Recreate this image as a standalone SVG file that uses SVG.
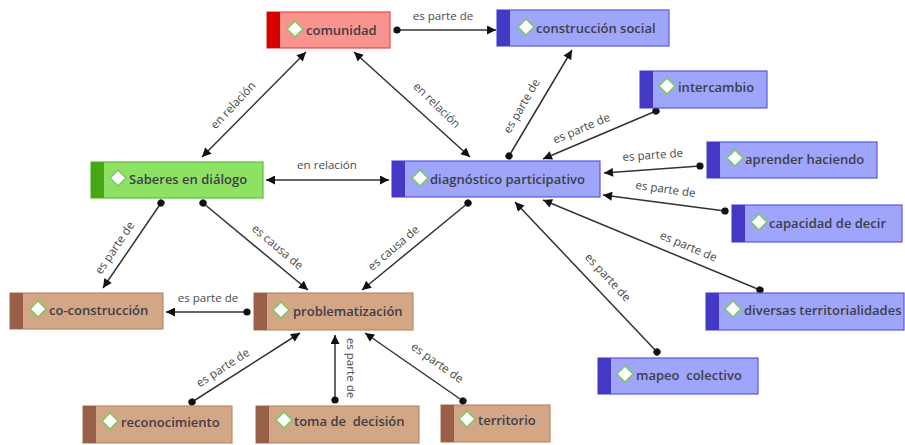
<svg xmlns="http://www.w3.org/2000/svg" xmlns:xlink="http://www.w3.org/1999/xlink" width="905" height="445" viewBox="0 0 905 445">
  <style>
    .body { stroke-width: 1.2; }
    .red .body { fill: #f9938d; stroke: #ea4a44; }
    .red .bar { fill: #d80000; }
    .blue .body { fill: #9ea5fa; stroke: #5a58dc; }
    .blue .bar { fill: #4638c6; }
    .green .body { fill: #8de264; stroke: #5cbf3a; }
    .green .bar { fill: #47a614; }
    .brown .body { fill: #d3a685; stroke: #b88a6a; }
    .brown .bar { fill: #9a5f49; }
    .icon { fill: #ffffff; stroke: #7fc866; stroke-width: 1.6; }
    .label { font-family: "Open Sans", "Noto Sans", sans-serif; font-size: 13px; font-weight: 600; fill: #3e3e46; white-space: pre; }
    .link { stroke: #333333; stroke-width: 1.5; fill: none; marker-start: url(#dot); marker-end: url(#arrow); }
    .link.both { marker-start: url(#arrow); }
    .rel { font-family: "Open Sans", "Noto Sans", sans-serif; font-size: 11.6px; fill: #4a4a4a; text-anchor: middle; }
  </style>
  <defs>
    <marker id="arrow" viewBox="0 0 10 10" refX="10" refY="5" markerWidth="10" markerHeight="9" markerUnits="userSpaceOnUse" orient="auto-start-reverse">
      <path d="M0,0 L10,5 L0,10 Z" fill="#111111"/>
    </marker>
    <marker id="dot" viewBox="0 0 8 8" refX="4" refY="4" markerWidth="8" markerHeight="8" markerUnits="userSpaceOnUse" orient="auto">
      <circle cx="4" cy="4" r="3.6" fill="#111111"/>
    </marker>
    <path id="diamond" class="icon" d="M0,-8 L8,0 L0,8 L-8,0 Z"/>
  </defs>

  <rect width="905" height="445" fill="#ffffff"/>

  <!-- connectors -->
  <g id="connectors">
    <line class="link" x1="397" y1="30" x2="496" y2="30"/>
    <line class="link both" x1="202" y1="157" x2="306" y2="52"/>
    <line class="link both" x1="470" y1="157" x2="354" y2="52"/>
    <line class="link both" x1="266" y1="180" x2="389" y2="180"/>
    <line class="link" x1="509" y1="156" x2="572" y2="50"/>
    <line class="link" x1="656" y1="111" x2="543" y2="159"/>
    <line class="link" x1="700" y1="166" x2="604" y2="173"/>
    <line class="link" x1="725" y1="211" x2="603" y2="195"/>
    <line class="link" x1="760" y1="290" x2="543" y2="200"/>
    <line class="link" x1="657" y1="352" x2="515" y2="202"/>
    <line class="link" x1="161" y1="203" x2="103" y2="288"/>
    <line class="link" x1="203" y1="203" x2="308" y2="290"/>
    <line class="link" x1="468" y1="203" x2="362" y2="290"/>
    <line class="link" x1="247" y1="312" x2="166" y2="312"/>
    <line class="link" x1="192" y1="402" x2="300" y2="333"/>
    <line class="link" x1="335" y1="400" x2="335" y2="335"/>
    <line class="link" x1="463" y1="401" x2="365" y2="333"/>

    <text class="rel" x="443" y="20">es parte de</text>
    <text class="rel" transform="translate(236,108) rotate(-47)">en relación</text>
    <text class="rel" transform="translate(434,108) rotate(44)">en relación</text>
    <text class="rel" x="327" y="169">en relación</text>
    <text class="rel" transform="translate(525,108) rotate(-60)">es parte de</text>
    <text class="rel" transform="translate(583,132) rotate(-23)">es parte de</text>
    <text class="rel" transform="translate(653,159) rotate(-4)">es parte de</text>
    <text class="rel" transform="translate(665,193) rotate(8)">es parte de</text>
    <text class="rel" transform="translate(687,250) rotate(23)">es parte de</text>
    <text class="rel" transform="translate(605,280) rotate(47)">es parte de</text>
    <text class="rel" transform="translate(118,250) rotate(-56)">es parte de</text>
    <text class="rel" transform="translate(275,250) rotate(40)">es causa de</text>
    <text class="rel" transform="translate(396,251) rotate(-40)">es causa de</text>
    <text class="rel" x="208" y="302">es parte de</text>
    <text class="rel" transform="translate(225,371) rotate(-33)">es parte de</text>
    <text class="rel" transform="translate(347,368) rotate(90)">es parte de</text>
    <text class="rel" transform="translate(435,366) rotate(35)">es parte de</text>
  </g>

  <!-- nodes -->
  <g id="comunidad" class="red">
    <rect class="body" x="267" y="12" width="123" height="36"/>
    <rect class="bar" x="267" y="12" width="13" height="36"/>
    <use xlink:href="#diamond" x="295" y="29"/>
    <text class="label" x="306" y="34.5">comunidad</text>
  </g>
  <g id="construccion-social" class="blue">
    <rect class="body" x="497" y="10" width="172" height="36"/>
    <rect class="bar" x="497" y="10" width="13" height="36"/>
    <use xlink:href="#diamond" x="526" y="27"/>
    <text class="label" x="536" y="32.5">construcción social</text>
  </g>
  <g id="intercambio" class="blue">
    <rect class="body" x="640" y="71" width="127" height="37"/>
    <rect class="bar" x="640" y="71" width="13" height="37"/>
    <use xlink:href="#diamond" x="667" y="86"/>
    <text class="label" x="678" y="91.5">intercambio</text>
  </g>
  <g id="saberes-en-dialogo" class="green">
    <rect class="body" x="91" y="162" width="172" height="36"/>
    <rect class="bar" x="91" y="162" width="13" height="36"/>
    <use xlink:href="#diamond" x="118" y="178"/>
    <text class="label" x="129" y="183.5">Saberes en diálogo</text>
  </g>
  <g id="diagnostico-participativo" class="blue">
    <rect class="body" x="392" y="161" width="208" height="36"/>
    <rect class="bar" x="392" y="161" width="13" height="36"/>
    <use xlink:href="#diamond" x="420" y="178"/>
    <text class="label" x="430" y="183.5">diagnóstico participativo</text>
  </g>
  <g id="aprender-haciendo" class="blue">
    <rect class="body" x="707" y="142" width="170" height="36"/>
    <rect class="bar" x="707" y="142" width="13" height="36"/>
    <use xlink:href="#diamond" x="735" y="158"/>
    <text class="label" x="745" y="163.5">aprender haciendo</text>
  </g>
  <g id="capacidad-de-decir" class="blue">
    <rect class="body" x="732" y="205" width="170" height="37"/>
    <rect class="bar" x="732" y="205" width="13" height="37"/>
    <use xlink:href="#diamond" x="759" y="222"/>
    <text class="label" x="769" y="227.5">capacidad de decir</text>
  </g>
  <g id="co-construccion" class="brown">
    <rect class="body" x="10" y="293" width="153" height="36"/>
    <rect class="bar" x="10" y="293" width="13" height="36"/>
    <use xlink:href="#diamond" x="38" y="309"/>
    <text class="label" x="49" y="314.5">co-construcción</text>
  </g>
  <g id="problematizacion" class="brown">
    <rect class="body" x="254" y="293" width="159" height="37"/>
    <rect class="bar" x="254" y="293" width="13" height="37"/>
    <use xlink:href="#diamond" x="281" y="310"/>
    <text class="label" x="293" y="315.5">problematización</text>
  </g>
  <g id="diversas-territorialidades" class="blue">
    <rect class="body" x="706" y="293" width="198" height="37"/>
    <rect class="bar" x="706" y="293" width="13" height="37"/>
    <use xlink:href="#diamond" x="733" y="309"/>
    <text class="label" x="744" y="314.5">diversas territorialidades</text>
  </g>
  <g id="mapeo-colectivo" class="blue">
    <rect class="body" x="598" y="358" width="160" height="36"/>
    <rect class="bar" x="598" y="358" width="13" height="36"/>
    <use xlink:href="#diamond" x="625" y="374"/>
    <text class="label" x="636" y="379.5">mapeo  colectivo</text>
  </g>
  <g id="reconocimiento" class="brown">
    <rect class="body" x="83" y="406" width="149" height="37"/>
    <rect class="bar" x="83" y="406" width="13" height="37"/>
    <use xlink:href="#diamond" x="110" y="421"/>
    <text class="label" x="121" y="426.5">reconocimiento</text>
  </g>
  <g id="toma-de-decision" class="brown">
    <rect class="body" x="256" y="406" width="163" height="37"/>
    <rect class="bar" x="256" y="406" width="13" height="37"/>
    <use xlink:href="#diamond" x="284" y="420"/>
    <text class="label" x="294" y="425.5">toma de  decisión</text>
  </g>
  <g id="territorio" class="brown">
    <rect class="body" x="441" y="405" width="109" height="37"/>
    <rect class="bar" x="441" y="405" width="13" height="37"/>
    <use xlink:href="#diamond" x="467" y="419"/>
    <text class="label" x="478" y="424.5">territorio</text>
  </g>
</svg>
